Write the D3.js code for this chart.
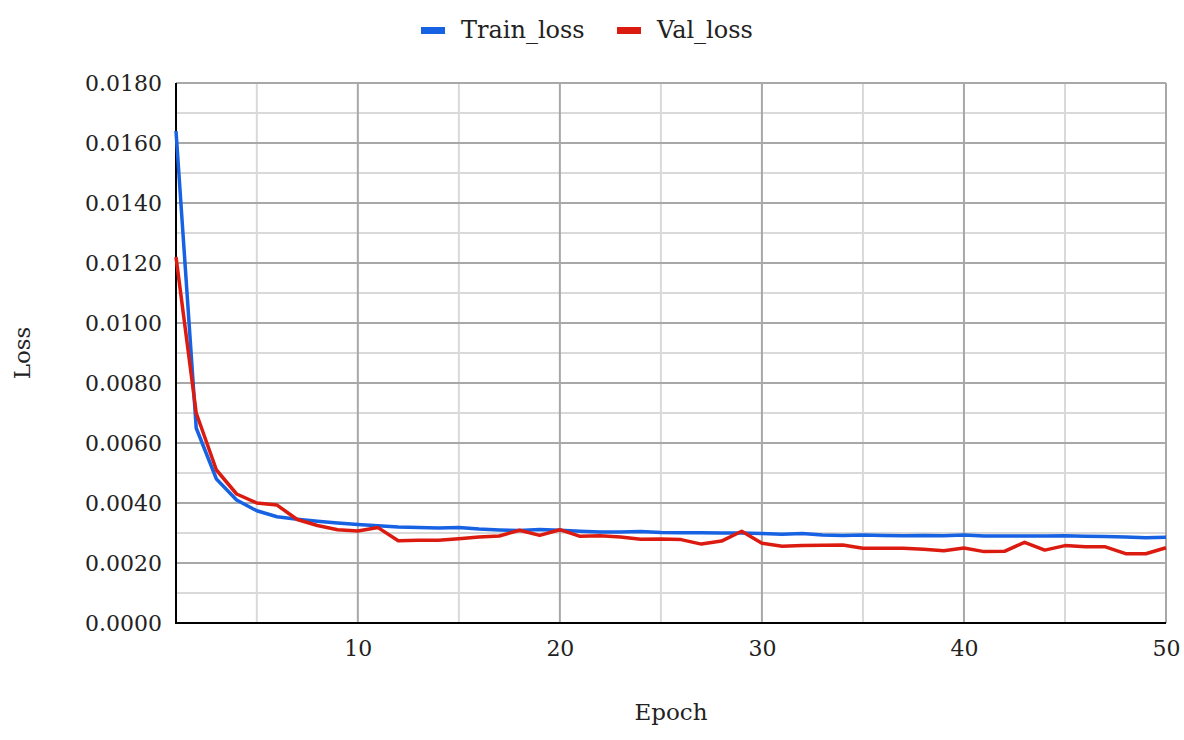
<!DOCTYPE html>
<html>
<head>
<meta charset="utf-8">
<script src="https://cdn.jsdelivr.net/npm/d3@7"></script>
<style>
  body { margin: 0; background: #fff; }
  text { font-family: "DejaVu Serif", "Liberation Serif", serif; fill: #222; }
</style>
</head>
<body>
<svg width="1184" height="740"></svg>
<script>
let width = 1184,
  height = 740;

// Values
let epochs = d3.range(1, 51);
let trainLoss = [
  0.0164, 0.0065, 0.0048, 0.0041, 0.00374, 0.00354, 0.00346, 0.00339, 0.00333, 0.00328,
  0.00324, 0.0032, 0.00318, 0.00317, 0.00318, 0.00313, 0.0031, 0.00308, 0.00312, 0.00309,
  0.00306, 0.00303, 0.00303, 0.00305, 0.00302, 0.00301, 0.00301, 0.003, 0.003, 0.00298,
  0.00296, 0.00298, 0.00293, 0.00292, 0.00293, 0.00292, 0.00291, 0.00292, 0.00291, 0.00293,
  0.0029, 0.0029, 0.0029, 0.0029, 0.00291, 0.00289, 0.00288, 0.00287, 0.00284, 0.00286
];
let valLoss = [
  0.0122, 0.0070, 0.0051, 0.0043, 0.0040, 0.00393, 0.00345, 0.00325, 0.00311, 0.00307,
  0.00318, 0.00274, 0.00276, 0.00276, 0.00281, 0.00287, 0.0029, 0.00309, 0.00292, 0.00311,
  0.00289, 0.00291, 0.00287, 0.00279, 0.0028, 0.00278, 0.00263, 0.00273, 0.00306, 0.00266,
  0.00256, 0.00258, 0.00259, 0.0026, 0.00249, 0.00249, 0.00249, 0.00246, 0.00241, 0.0025,
  0.00238, 0.00239, 0.00269, 0.00243, 0.00258, 0.00254, 0.00254, 0.00231, 0.00231, 0.00251
];
let yTicks = d3.range(0, 0.0181, 0.002);
let yMinor = d3.range(0.001, 0.018, 0.002);
let xTicks = [10, 20, 30, 40, 50];
let xMinor = [5, 15, 25, 35, 45];

let series = [
  { name: "Train_loss", values: trainLoss, color: "#1762e3" },
  { name: "Val_loss", values: valLoss, color: "#dc1b10" },
];

let margin = { left: 176, right: 18, top: 83, bottom: 117 };

let svg = d3.select("svg").attr("viewBox", "0 0 " + width + " " + height);

let x = d3.scaleLinear().domain([1, 50]).range([margin.left, width - margin.right]);
let y = d3.scaleLinear().domain([0, 0.018]).range([height - margin.bottom, margin.top]);

// minor gridlines
let grid = svg.append("g");
grid.selectAll(".ym").data(yMinor).enter().append("line")
  .attr("x1", x(1)).attr("x2", x(50))
  .attr("y1", (d) => y(d)).attr("y2", (d) => y(d))
  .attr("stroke", "#d9d9d9").attr("stroke-width", 2);
grid.selectAll(".xm").data(xMinor).enter().append("line")
  .attr("x1", (d) => x(d)).attr("x2", (d) => x(d))
  .attr("y1", y(0)).attr("y2", y(0.018))
  .attr("stroke", "#d9d9d9").attr("stroke-width", 2);

// major gridlines
grid.selectAll(".yM").data(yTicks.slice(1)).enter().append("line")
  .attr("x1", x(1)).attr("x2", x(50))
  .attr("y1", (d) => y(d)).attr("y2", (d) => y(d))
  .attr("stroke", "#a8a8a8").attr("stroke-width", 2);
grid.selectAll(".xM").data(xTicks).enter().append("line")
  .attr("x1", (d) => x(d)).attr("x2", (d) => x(d))
  .attr("y1", y(0)).attr("y2", y(0.018))
  .attr("stroke", "#a8a8a8").attr("stroke-width", 2);

// axes
let yAxis = svg.append("g")
  .attr("transform", "translate(" + margin.left + ",0)")
  .call(d3.axisLeft(y).tickValues(yTicks).tickSize(0).tickPadding(14).tickFormat(d3.format(".4f")));
yAxis.select(".domain").remove();
yAxis.selectAll("text").style("font-size", "22px").attr("fill", "#222");

let xAxis = svg.append("g")
  .attr("transform", "translate(0," + y(0) + ")")
  .call(d3.axisBottom(x).tickValues(xTicks).tickSize(0).tickPadding(17));
xAxis.select(".domain").remove();
xAxis.selectAll("text").style("font-size", "22px").attr("fill", "#222");

svg.append("line")
  .attr("x1", x(1)).attr("x2", x(1)).attr("y1", y(0.018)).attr("y2", y(0) + 1)
  .attr("stroke", "#000").attr("stroke-width", 2);
svg.append("line")
  .attr("x1", x(1) - 1).attr("x2", x(50)).attr("y1", y(0)).attr("y2", y(0))
  .attr("stroke", "#000").attr("stroke-width", 2);

// lines
let line = d3.line()
  .x((d, i) => x(epochs[i]))
  .y((d) => y(d));

svg.append("g").selectAll("path").data(series).enter().append("path")
  .attr("d", (d) => line(d.values))
  .attr("fill", "none")
  .attr("stroke", (d) => d.color)
  .attr("stroke-width", 3.5)
  .attr("stroke-linejoin", "round");

// axis titles
svg.append("text")
  .attr("x", (x(1) + x(50)) / 2).attr("y", 720)
  .attr("text-anchor", "middle").style("font-size", "23px")
  .text("Epoch");
svg.append("text")
  .attr("transform", "translate(30," + (y(0) + y(0.018)) / 2 + ") rotate(-90)")
  .attr("text-anchor", "middle").style("font-size", "23px")
  .text("Loss");

// legend
let legendPos = [421, 617];
let legend = svg.append("g").selectAll("g").data(series).enter().append("g")
  .attr("transform", (d, i) => "translate(" + legendPos[i] + ",0)");
legend.append("rect")
  .attr("x", 0).attr("y", 27).attr("width", 24).attr("height", 7)
  .attr("fill", (d) => d.color);
legend.append("text")
  .attr("x", 40).attr("y", 38)
  .style("font-size", "24px")
  .text((d) => d.name);
</script>
</body>
</html>
